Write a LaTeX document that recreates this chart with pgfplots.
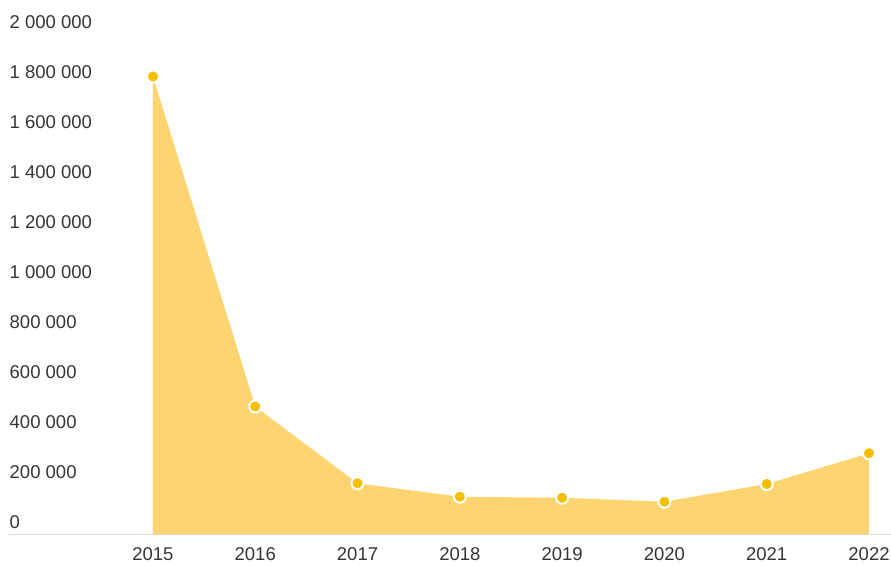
\documentclass[border=0pt]{standalone}
\usepackage{fontspec}
\setmainfont{Liberation Sans}
\usepackage{pgfplots}
\pgfplotsset{compat=1.18}
\definecolor{areafill}{HTML}{FDD470}
\definecolor{markfill}{HTML}{F6BE00}
\definecolor{labelgray}{HTML}{353535}
\definecolor{axisgray}{HTML}{DDDDDD}
\begin{document}
\begin{tikzpicture}
  \path[use as bounding box] (-8pt,-31pt) rectangle (883pt,534pt);
  \begin{axis}[
    at={(0pt,0pt)}, anchor=south west,
    scale only axis,
    width=883pt, height=534pt,
    xmin=2013.583, xmax=2022.215,
    ymin=0, ymax=2136000,
    axis x line*=bottom,
    axis y line*=left,
    x axis line style={-, draw=axisgray, line width=1pt},
    y axis line style={draw=none},
    major tick length=0pt,
    xtick={2015,2016,2017,2018,2019,2020,2021,2022},
    xticklabels={2015,2016,2017,2018,2019,2020,2021,2022},
    ytick={0,200000,400000,600000,800000,1000000,1200000,1400000,1600000,1800000,2000000},
    yticklabels={0,200 000,400 000,600 000,800 000,1 000 000,1 200 000,1 400 000,1 600 000,1 800 000,2 000 000},
    ticklabel style={font=\fontsize{18.5}{21}\selectfont, text=labelgray, inner sep=0pt},
    xticklabel style={anchor=north, yshift=-13pt},
    yticklabel style={anchor=base west, xshift=1.5pt, yshift=5.5pt},
    clip=false,
  ]
  \addplot[fill=areafill, draw=none] coordinates {
    (2015,1830000) (2016,510000) (2017,203000) (2018,149000)
    (2019,145000) (2020,129000) (2021,200000) (2022,323000)
  } \closedcycle;
  \addplot[draw=none, mark=*, mark size=6pt,
    mark options={fill=markfill, draw=white, line width=2pt}] coordinates {
    (2015,1830000) (2016,510000) (2017,203000) (2018,149000)
    (2019,145000) (2020,129000) (2021,200000) (2022,323000)
  };
  \end{axis}
\end{tikzpicture}
\end{document}
